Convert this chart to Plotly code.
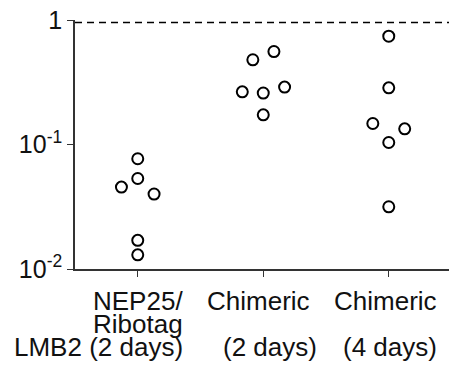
import plotly.graph_objects as go

categories = ["NEP25/Ribotag LMB2 (2 days)", "Chimeric (2 days)", "Chimeric (4 days)"]
# jitter offsets (category units) and values per group
g1_off = [0.0, -0.13, 0.0, 0.13, 0.0, 0.0]
g1_val = [0.0768, 0.0455, 0.0533, 0.040, 0.0170, 0.0130]
g2_off = [0.085, -0.083, -0.167, 0.0, 0.17, 0.0]
g2_val = [0.558, 0.479, 0.265, 0.259, 0.289, 0.173]
g3_off = [0.0, 0.0, -0.127, 0.127, 0.0, 0.0]
g3_val = [0.741, 0.285, 0.1475, 0.1336, 0.1038, 0.0316]
ref_line = 0.953
tick_vals = [0.01, 0.1, 1]
tick_text = ["10<sup>-2</sup>", "10<sup>-1</sup>", "1"]

FONT = "Liberation Sans, Arial, sans-serif"

xs, ys = [], []
for i, (offs, vals) in enumerate([(g1_off, g1_val), (g2_off, g2_val), (g3_off, g3_val)]):
    xs += [i + o for o in offs]
    ys += vals

fig = go.Figure()
fig.add_trace(go.Scatter(
    x=[-0.5, 2.5], y=[ref_line, ref_line], mode="lines",
    line=dict(color="black", width=1.5, dash="7px,5px"),
    hoverinfo="skip", showlegend=False, cliponaxis=False))
fig.add_trace(go.Scatter(
    x=xs, y=ys, mode="markers",
    marker=dict(symbol="circle-open", size=11, color="black", line=dict(width=2, color="black")),
    showlegend=False, cliponaxis=False))

def px_to_x(p):
    return (p - 75) / 125.5 - 0.5

def py_to_paper(p):
    return (269.3 - p) / 249.3

labels = [
    ("NEP25/", 183, 301.5),
    ("Ribotag", 183, 324),
    ("LMB2 (2 days)", 183, 347),
    ("Chimeric", 310, 301.5),
    ("(2 days)", 317, 347),
    ("Chimeric", 437, 301.5),
    ("(4 days)", 437, 347),
]
for txt, xr, yc in labels:
    fig.add_annotation(text=txt, x=px_to_x(xr), xref="x", y=py_to_paper(yc), yref="paper",
                       xanchor="right", yanchor="middle", showarrow=False,
                       borderpad=0, borderwidth=0,
                       font=dict(family=FONT, size=26, color="#111"))

fig.update_layout(
    width=449, height=369,
    margin=dict(l=75, r=0, t=20, b=100),
    plot_bgcolor="white", paper_bgcolor="white",
    font=dict(family=FONT, size=25, color="#111"),
    xaxis=dict(range=[-0.5, 2.48], tickvals=[0, 1, 2], showticklabels=False,
               showgrid=False, zeroline=False, showline=True, linecolor="#333", linewidth=1.6,
               ticks="outside", ticklen=6, tickwidth=1.4, tickcolor="#333"),
    yaxis=dict(type="log", range=[-2, 0], tickvals=tick_vals, ticktext=tick_text,
               showgrid=False, zeroline=False, showline=True, linecolor="#333", linewidth=1.6,
               ticks="outside", ticklen=6, tickwidth=1.4, tickcolor="#333",
               tickfont=dict(family=FONT, size=25, color="#111")),
)

fig.write_html("out.html")
